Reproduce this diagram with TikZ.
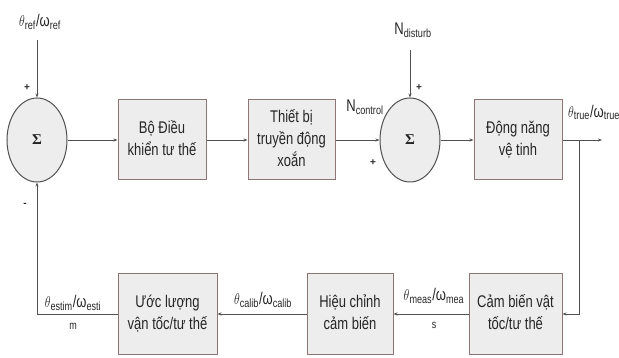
\documentclass[tikz,border=0pt]{standalone}
\usepackage{fontspec}
\setmainfont{Liberation Sans}
\newfontfamily\sigmafont{Liberation Serif}
\usepackage{graphicx}
\usepackage{tikz}
\usetikzlibrary{positioning, arrows.meta, shapes.geometric}

\definecolor{boxedge}{HTML}{8E7575}
\definecolor{boxfill}{HTML}{EDEDED}
\definecolor{wire}{HTML}{505050}
\definecolor{ink}{HTML}{262626}

% text in the scan is drawn a bit taller than wide
\newcommand{\tall}[1]{\scalebox{1}[1.3]{\begin{tabular}{@{}c@{}}#1\end{tabular}}}

\begin{document}
\begin{tikzpicture}[
    x=1pt, y=-1pt,
    box/.style={
        draw=boxedge,
        fill=boxfill,
        text=ink,
        line width=1pt,
        align=center,
        minimum height=80pt,
        inner sep=2pt,
        font=\fontsize{13}{17}\selectfont
    },
    summer/.style={
        draw=wire,
        fill=boxfill,
        text=ink,
        line width=1pt,
        ellipse,
        minimum width=60pt,
        minimum height=84pt,
        font=\sigmafont\bfseries\fontsize{15}{18}\selectfont
    },
    lbl/.style={inner sep=0pt, align=center, text=ink, font=\fontsize{13}{17}\selectfont},
    sgn/.style={inner sep=0pt, text=ink, font=\bfseries},
    arrow/.style={-{Stealth[length=4pt,width=3pt]}, draw=wire, line width=0.9pt}
]
\useasboundingbox (0,0) rectangle (619,358);

% forward path
\node[summer] (sum1) at (37,140) {Σ};
\node[box, minimum width=88pt] (ctrl) at (162,140) {\tall{Bộ Điều\\khiển tư thế}};
\node[box, minimum width=87pt] (act) at (291.5,140) {\tall{Thiết bị\\truyền động\\xoắn}};
\node[summer] (sum2) at (410,140) {Σ};
\node[box, minimum width=88pt] (dyn) at (518,140) {\tall{Động năng\\vệ tinh}};

% feedback path
\node[box, minimum width=93pt] (sens) at (515.5,314) {\tall{Cảm biến vật\\tốc/tư thế}};
\node[box, minimum width=86pt] (calib) at (350,314) {\tall{Hiệu chỉnh\\cảm biến}};
\node[box, minimum width=99pt] (est) at (167.5,314) {\tall{Ước lượng\\vận tốc/tư thế}};

\coordinate (ref) at (37,40);
\coordinate (dist) at (410,50);
\coordinate (out) at (602,140);
\coordinate (tap) at (579,140);

\draw[arrow] (ref) -- (sum1.north);
\draw[arrow] (dist) -- (sum2.north);
\draw[arrow] (sum1) -- (ctrl);
\draw[arrow] (ctrl) -- (act);
\draw[arrow] (act) -- (sum2);
\draw[arrow] (sum2) -- (dyn);
\draw[arrow] (dyn) -- (out);
\draw[arrow] (tap) |- (sens.east);
\draw[arrow] (sens) -- (calib);
\draw[arrow] (calib) -- (est);
\draw[arrow] (est.west) -| (sum1.south);

% signal labels
\node[lbl] (lref) at (40,22) {\tall{$\theta$\textsubscript{ref}/ω\textsubscript{ref}}};
\node[lbl] (ldist) at (413,30) {\tall{N\textsubscript{disturb}}};
\node[lbl] (lctrl) at (365,107) {\tall{N\textsubscript{control}}};
\node[lbl] (ltrue) at (594,113) {\tall{$\theta$\textsubscript{true}/ω\textsubscript{true}}};
\node[lbl] (lmeas) at (434,310) {\tall{$\theta$\textsubscript{meas}/ω\textsubscript{mea}\\[4pt]{\small s}}};
\node[lbl] (lcalib) at (263,300) {\tall{$\theta$\textsubscript{calib}/ω\textsubscript{calib}}};
\node[lbl] (lest) at (73,314) {\tall{$\theta$\textsubscript{estim}/ω\textsubscript{esti}\\{\small m}}};

% signs
\node[sgn] (p1) at (27,88) {+};
\node[sgn] (m1) at (25,205) {-};
\node[sgn] (p2) at (419,88) {+};
\node[sgn] (p3) at (373,163) {+};

\end{tikzpicture}
\end{document}
